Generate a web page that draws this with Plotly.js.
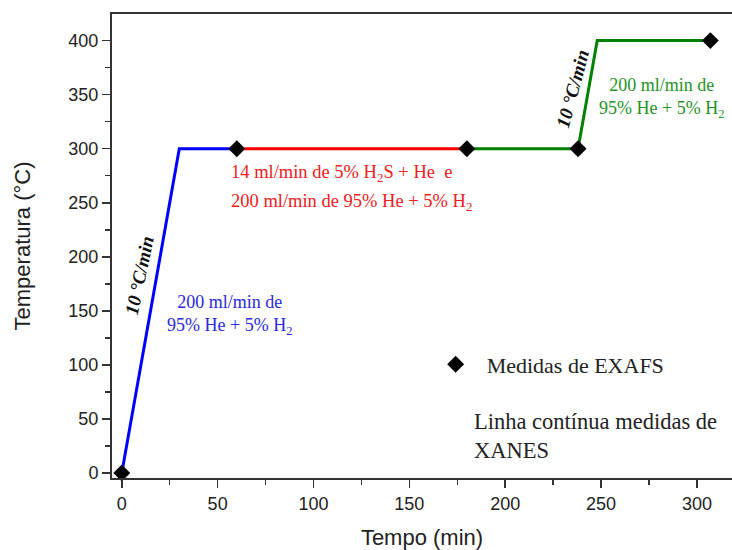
<!DOCTYPE html>
<html>
<head>
<meta charset="utf-8">
<script src="https://cdn.plot.ly/plotly-3.0.1.min.js"></script>
<style>html,body{margin:0;padding:0;background:#fff;}#chart{width:732px;height:550px;}</style>
</head>
<body>
<div id="chart"></div>
<script>
// Data
const blueTime = [0, 30, 60];
const blueTemp = [0, 300, 300];
const redTime = [60, 180];
const redTemp = [300, 300];
const greenTime = [180, 238, 248, 307];
const greenTemp = [300, 300, 400, 400];
const exafsTime = [0, 60, 180, 238, 307];
const exafsTemp = [0, 300, 300, 300, 400];
const xTickVals = [0, 50, 100, 150, 200, 250, 300];
const yTickVals = [0, 50, 100, 150, 200, 250, 300, 350, 400];

const serif = 'Liberation Serif, Times New Roman, serif';
const sans = 'Liberation Sans, Arial, sans-serif';

const traces = [
  {x: blueTime, y: blueTemp, mode: 'lines', line: {color: '#0000ff', width: 3}, showlegend: false, hoverinfo: 'skip'},
  {x: redTime, y: redTemp, mode: 'lines', line: {color: '#ff0000', width: 3}, showlegend: false, hoverinfo: 'skip'},
  {x: greenTime, y: greenTemp, mode: 'lines', line: {color: '#008000', width: 3}, showlegend: false, hoverinfo: 'skip'},
  {x: exafsTime, y: exafsTemp, mode: 'markers', name: '\u00a0\u00a0Medidas de EXAFS',
   marker: {symbol: 'diamond', size: 13, color: '#000'}, cliponaxis: false}
];

const layout = {
  width: 732, height: 550,
  margin: {l: 112, r: 0, t: 14, b: 72},
  paper_bgcolor: '#fff', plot_bgcolor: '#fff',
  font: {family: sans, color: '#222', size: 18},
  xaxis: {
    range: [-5.1, 318.3], tickvals: xTickVals, ticks: 'outside', ticklen: 8, tickwidth: 1.5,
    tickcolor: '#333', showgrid: false, zeroline: false, showline: true, linecolor: '#333', linewidth: 2,
    mirror: true,
    minor: {dtick: 25, tick0: 0, ticks: 'outside', ticklen: 5, tickwidth: 1.5, tickcolor: '#333', showgrid: false},
    tickfont: {family: sans, size: 18, color: '#222'},
    title: {text: 'Tempo (min)', font: {family: sans, size: 22, color: '#222'}, standoff: 21}
  },
  yaxis: {
    range: [-4.6, 424.6], tickvals: yTickVals, ticks: 'outside', ticklen: 8, tickwidth: 1.5,
    tickcolor: '#333', showgrid: false, zeroline: false, showline: true, linecolor: '#333', linewidth: 2,
    minor: {dtick: 25, tick0: 0, ticks: 'outside', ticklen: 5, tickwidth: 1.5, tickcolor: '#333', showgrid: false},
    tickfont: {family: sans, size: 18, color: '#222'},
    title: {text: 'Temperatura (°C)', font: {family: sans, size: 22, color: '#222'}, standoff: 32}
  },
  showlegend: true,
  legend: {x: 0.522, y: 0.29, xanchor: 'left', yanchor: 'top', bgcolor: 'rgba(0,0,0,0)',
           font: {family: serif, size: 22, color: '#222'}},
  annotations: [
    {x: 9.05, y: 183, xref: 'x', yref: 'y', text: '<b><i>10 °C/min</i></b>', textangle: -78,
     showarrow: false, font: {family: serif, size: 19, color: '#111'}},
    {x: 235.1, y: 356, xref: 'x', yref: 'y', text: '<b><i>10 °C/min</i></b>', textangle: -75,
     showarrow: false, font: {family: serif, size: 19, color: '#111'}},
    {x: 56.4, y: 146.6, xref: 'x', yref: 'y', text: '200 ml/min de<br>95% He + 5% H<sub>2</sub>',
     showarrow: false, align: 'center', font: {family: serif, size: 18, color: '#2a2ae0'}},
    {x: 55.8, y: 277.5, xref: 'x', yref: 'y', xanchor: 'left', text: '14 ml/min de 5% H<sub>2</sub>S + He  e',
     showarrow: false, align: 'left', font: {family: serif, size: 18.5, color: '#ee2020'}},
    {x: 55.8, y: 249.8, xref: 'x', yref: 'y', xanchor: 'left', text: '200 ml/min de 95% He + 5% H<sub>2</sub>',
     showarrow: false, align: 'left', font: {family: serif, size: 18.5, color: '#ee2020'}},
    {x: 281.7, y: 346.9, xref: 'x', yref: 'y', text: '200 ml/min de<br>95% He + 5% H<sub>2</sub>',
     showarrow: false, align: 'center', font: {family: serif, size: 18, color: '#1f931f'}},
    {x: 0.581, y: 0.09, xref: 'paper', yref: 'paper', xanchor: 'left', yanchor: 'middle',
     text: 'Linha contínua medidas de<br>XANES', showarrow: false, align: 'left',
     font: {family: serif, size: 22.5, color: '#222'}}
  ]
};

Plotly.newPlot('chart', traces, layout, {displayModeBar: false, staticPlot: true});
</script>
</body>
</html>
